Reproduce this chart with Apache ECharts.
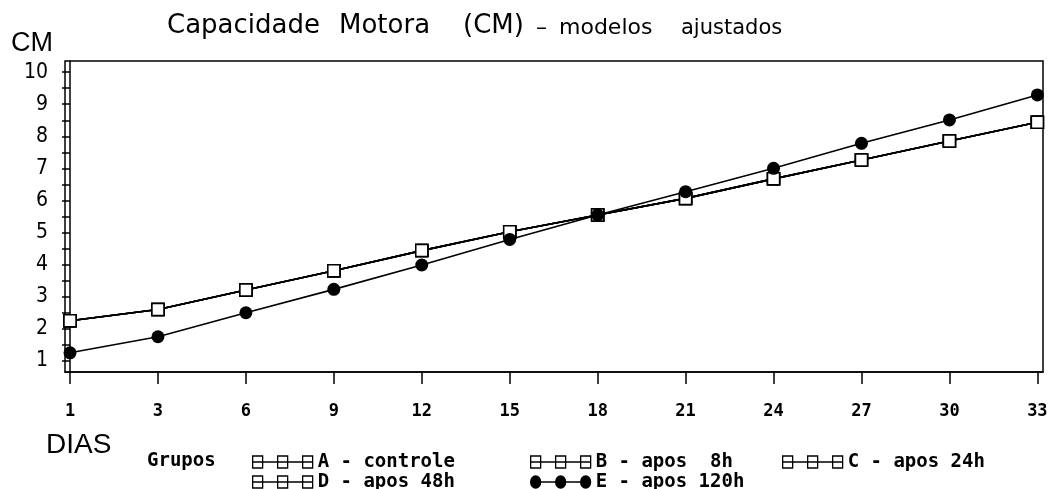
<!DOCTYPE html>
<html>
<head>
<meta charset="utf-8">
<script src="https://cdn.jsdelivr.net/npm/echarts@6.0.0/dist/echarts.min.js"></script>
<style>
body{margin:0;background:#fff;}
#main{width:1052px;height:489px;}
</style>
</head>
<body>
<div id="main"></div>
<script>
// dias (eixo x) e valores
var dias = ['1', '3', '6', '9', '12', '15', '18', '21', '24', '27', '30', '33'];
var grupoA = [2.24, 2.59, 3.20, 3.80, 4.43, 5.02, 5.54, 6.06, 6.67, 7.26, 7.85, 8.44];
var grupoB = [2.24, 2.59, 3.20, 3.80, 4.43, 5.02, 5.54, 6.06, 6.67, 7.26, 7.85, 8.44];
var grupoC = [2.24, 2.59, 3.20, 3.80, 4.43, 5.02, 5.54, 6.06, 6.67, 7.26, 7.85, 8.44];
var grupoD = [2.24, 2.59, 3.20, 3.80, 4.43, 5.02, 5.54, 6.06, 6.67, 7.26, 7.85, 8.44];
var grupoE = [1.24, 1.74, 2.49, 3.22, 3.98, 4.78, 5.54, 6.27, 7.00, 7.78, 8.51, 9.29];
var yLabels = [1, 2, 3, 4, 5, 6, 7, 8, 9, 10];
var yTicks = [1, 1.5, 2, 2.5, 3, 3.5, 4, 4.5, 5, 5.5, 6, 6.5, 7, 7.5, 8, 8.5, 9, 9.5, 10];
var nomes = ['A - controle', 'B - apos  8h', 'C - apos 24h', 'D - apos 48h', 'E - apos 120h'];

var xIdx = dias.map(function (d, i) { return i; });
function pares(arr) {
    return arr.map(function (v, i) { return [i, v]; });
}

var iconQuad = 'path://M0,6L60,6M0,0L10,0L10,12L0,12ZM25,0L35,0L35,12L25,12ZM50,0L60,0L60,12L50,12Z';
var iconBola = 'path://M0,6L60,6M0,6A5,6 0 1,0 10,6A5,6 0 1,0 0,6ZM25,6A5,6 0 1,0 35,6A5,6 0 1,0 25,6ZM50,6A5,6 0 1,0 60,6A5,6 0 1,0 50,6Z';
var fonteLeg = {fontFamily: 'DejaVu Sans Mono', fontWeight: 'bold', fontSize: 19, color: '#000', lineHeight: 20};

function legenda(nome, esq, topo, cheio) {
    return {
        data: [{
            name: nome,
            icon: cheio ? iconBola : iconQuad,
            itemStyle: {color: cheio ? '#000' : '#fff', borderColor: '#000', borderWidth: 1.3}
        }],
        left: esq,
        top: topo,
        padding: 0,
        itemWidth: 60,
        itemHeight: 12,
        selectedMode: false,
        textStyle: fonteLeg
    };
}

function serie(nome, arr, cheio) {
    return {
        name: nome,
        type: 'line',
        data: pares(arr),
        symbol: cheio ? 'circle' : 'rect',
        symbolSize: cheio ? 13 : 12,
        showAllSymbol: true,
        animation: false,
        lineStyle: {color: '#000', width: 1.6},
        itemStyle: {color: cheio ? '#000' : '#fff', borderColor: '#000', borderWidth: cheio ? 0 : 1.5}
    };
}

function palavra(tam, larg) {
    var s = {fontFamily: 'DejaVu Sans', fontWeight: 'normal', fontSize: tam, color: '#000', verticalAlign: 'bottom'};
    if (larg) s.width = larg;
    return s;
}

var myChart = echarts.init(document.getElementById('main'));
var option = {
    backgroundColor: '#fff',
    animation: false,
    title: {
        left: 167,
        top: 13,
        padding: 0,
        text: '{w1|Capacidade}{w2|Motora}{w3|(CM)}{s1|–}{s2|modelos}{s3|ajustados}',
        textStyle: {
            fontWeight: 'normal',
            rich: {
                w1: palavra(26, 172),
                w2: palavra(26, 124),
                w3: palavra(26, 73),
                s1: palavra(22, 23),
                s2: palavra(22, 122),
                s3: palavra(21)
            }
        }
    },
    graphic: [
        {type: 'text', left: 11, top: 30, style: {text: 'CM', fontFamily: 'Liberation Sans', fontSize: 27, fill: '#000'}},
        {type: 'text', left: 46, top: 431, style: {text: 'DIAS', fontFamily: 'Liberation Sans', fontSize: 28, fill: '#000'}},
        {type: 'text', left: 147, top: 452, style: {text: 'Grupos', font: 'bold 19px "DejaVu Sans Mono"', fill: '#000'}}
    ],
    legend: [
        legenda(nomes[0], 252, 452, false),
        legenda(nomes[1], 530, 452, false),
        legenda(nomes[2], 782, 452, false),
        legenda(nomes[3], 252, 472, false),
        legenda(nomes[4], 530, 472, true)
    ],
    grid: {
        left: 65,
        right: 9,
        top: 61,
        bottom: 117,
        show: true,
        borderColor: '#000',
        borderWidth: 1.5,
        backgroundColor: '#fff'
    },
    xAxis: {
        type: 'value',
        min: -0.057,
        max: 11.064,
        axisLine: {show: true, lineStyle: {color: '#000', width: 1.5}},
        axisTick: {show: true, length: 12, customValues: xIdx, lineStyle: {color: '#000', width: 1.5}},
        axisLabel: {
            customValues: xIdx,
            margin: 31,
            fontFamily: 'DejaVu Sans Mono',
            fontWeight: 'bold',
            fontSize: 17,
            color: '#000',
            formatter: function (v) { return dias[Math.round(v)]; }
        },
        splitLine: {show: false}
    },
    yAxis: {
        type: 'value',
        min: 0.64,
        max: 10.35,
        axisLine: {show: true, lineStyle: {color: '#000', width: 1.5}},
        axisTick: {show: true, length: 8, customValues: yTicks, lineStyle: {color: '#000', width: 1.5}},
        axisLabel: {
            customValues: yLabels,
            margin: 17,
            fontFamily: 'DejaVu Sans Condensed, Liberation Sans',
            fontSize: 21,
            color: '#000'
        },
        splitLine: {show: false}
    },
    series: [
        serie(nomes[0], grupoA, false),
        serie(nomes[1], grupoB, false),
        serie(nomes[2], grupoC, false),
        serie(nomes[3], grupoD, false),
        serie(nomes[4], grupoE, true)
    ]
};
myChart.setOption(option);
</script>
</body>
</html>
